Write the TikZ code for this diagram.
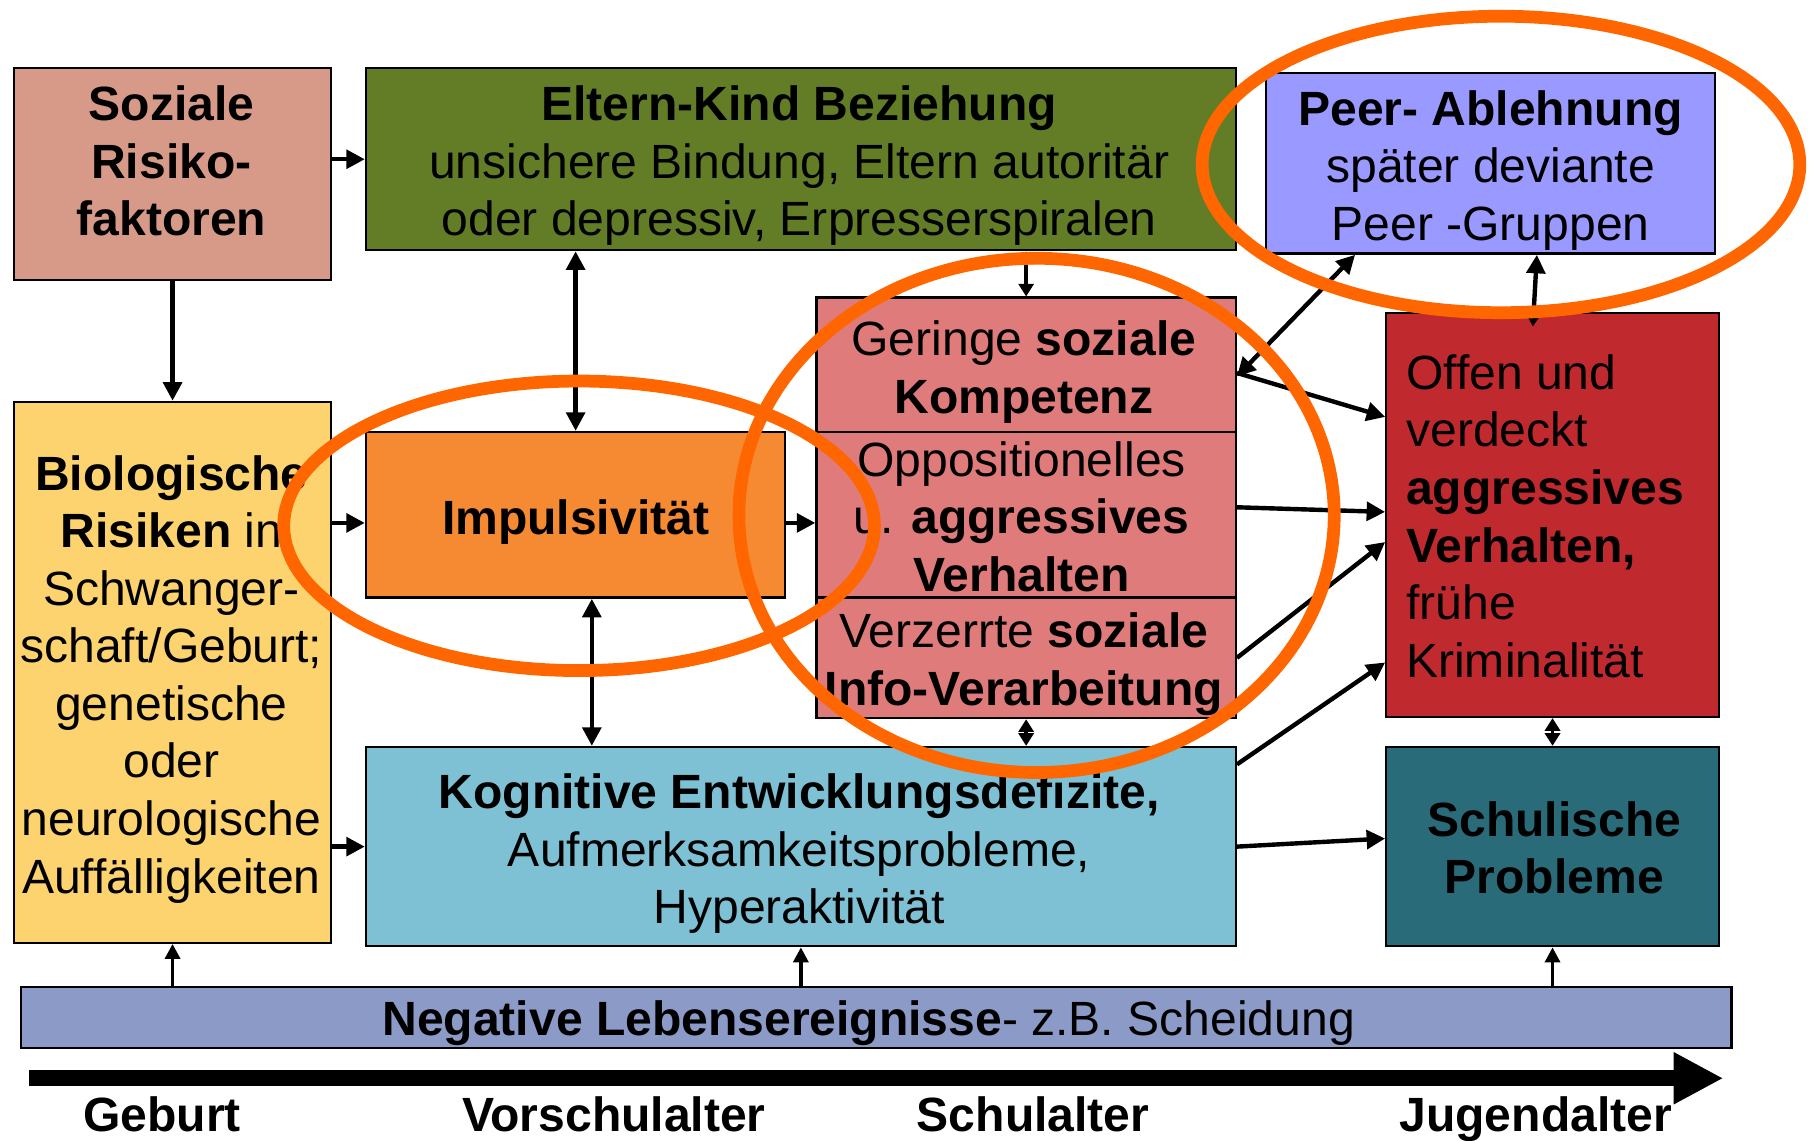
\documentclass[tikz,border=0pt]{standalone}
\usepackage{fontspec}
\setmainfont{Liberation Sans}
\usetikzlibrary{arrows.meta,calc}
\newcommand\hst{\rule{0pt}{34pt}}
\definecolor{cSoz}{RGB}{215,153,136}
\definecolor{cElt}{RGB}{99,125,39}
\definecolor{cPeer}{RGB}{153,153,255}
\definecolor{cBio}{RGB}{253,211,111}
\definecolor{cImp}{RGB}{246,138,51}
\definecolor{cSoc}{RGB}{224,123,123}
\definecolor{cKog}{RGB}{126,193,212}
\definecolor{cRed}{RGB}{192,42,47}
\definecolor{cSch}{RGB}{42,107,122}
\definecolor{cNeg}{RGB}{139,154,198}
\definecolor{cOra}{RGB}{255,102,0}
\begin{document}
\begin{tikzpicture}[x=1pt,y=-1pt,
  box/.style={draw=black, line width=2pt, inner sep=0pt},
  txt/.style={inner sep=0pt, anchor=north, align=center, font=\fontsize{41.5}{49.7}\selectfont},
  ltxt/.style={inner sep=0pt, anchor=north west, align=left, font=\fontsize{41.5}{49.7}\selectfont},
  arr/.style={line width=3.8pt, -{Triangle[length=16pt,width=16pt]}},
  darr/.style={line width=3.8pt, {Triangle[length=16pt,width=16pt]}-{Triangle[length=16pt,width=16pt]}},
  sdarr/.style={line width=3pt, {Triangle[length=11pt,width=13pt]}-{Triangle[length=11pt,width=13pt]}},
  uarr/.style={line width=3pt, -{Triangle[length=13pt,width=13pt]}},
  oval/.style={draw=cOra, line width=11pt}
]
\useasboundingbox (0,0) rectangle (1568,985);

% boxes
\node[box, fill=cSoz, minimum width=274pt, minimum height=183pt] (soz) at (149,150.5) {};
\node[box, fill=cElt, minimum width=751pt, minimum height=157pt] (elt) at (691.5,137.5) {};
\node[box, fill=cPeer, minimum width=388pt, minimum height=156pt] (peer) at (1287,141) {};
\node[box, fill=cBio, minimum width=274pt, minimum height=467pt] (bio) at (149,580.5) {};
\node[box, fill=cImp, minimum width=362pt, minimum height=143pt] (imp) at (497,444.5) {};
\node[box, fill=cSoc, minimum width=362pt, minimum height=116pt] (soc1) at (886,315) {};
\node[box, fill=cSoc, minimum width=362pt, minimum height=143pt] (soc2) at (886,444.5) {};
\node[box, fill=cSoc, minimum width=362pt, minimum height=104pt] (soc3) at (886,568) {};
\node[box, fill=cKog, minimum width=751pt, minimum height=172pt] (kog) at (691.5,731) {};
\node[box, fill=cRed, minimum width=287pt, minimum height=349pt] (red) at (1340.5,444.5) {};
\node[box, fill=cSch, minimum width=287pt, minimum height=172pt] (sch) at (1340.5,731) {};
\node[box, fill=cNeg, minimum width=1477pt, minimum height=53pt] (neg) at (756.5,878.5) {};

% texts
\node[txt] (sozT) at (148,70) {\hst\textbf{Soziale}\\\textbf{Risiko-}\\\textbf{faktoren}};
\node[txt] (eltT) at (690,70) {\hst\textbf{Eltern-Kind Beziehung}\\unsichere Bindung, Eltern autoritär\\oder depressiv, Erpresserspiralen};
\node[txt] (peerT) at (1287,74) {\hst\textbf{Peer- Ablehnung}\\später deviante\\Peer -Gruppen};
\node[txt] (bioT) at (148,389) {\hst\textbf{Biologische}\\\textbf{Risiken} in\\Schwanger-\\schaft/Geburt;\\genetische\\oder\\neurologische\\Auffälligkeiten};
\node[txt] (impT) at (497,427) {\hst\textbf{Impulsivität}};
\node[txt] (soc1T) at (884,273) {\hst Geringe \textbf{soziale}\\\textbf{Kompetenz}};
\node[txt] (soc2T) at (882,377) {\hst Oppositionelles\\u. \textbf{aggressives}\\\textbf{Verhalten}};
\node[txt] (soc3T) at (884,525) {\hst Verzerrte \textbf{soziale}\\\textbf{Info-Verarbeitung}};
\node[txt] (kogT) at (690,664) {\hst\textbf{Kognitive Entwicklungsdefizite,}\\Aufmerksamkeitsprobleme,\\Hyperaktivität};
\node[ltxt] (redT) at (1214,302) {\hst Offen und\\verdeckt\\\textbf{aggressives}\\\textbf{Verhalten,}\\frühe\\Kriminalität};
\node[txt] (schT) at (1342,688) {\hst\textbf{Schulische}\\\textbf{Probleme}};
\node[txt] (negT) at (750,860) {\hst\textbf{Negative Lebensereignisse}- z.B. Scheidung};

% timeline
\coordinate (tl0) at (25,931);
\coordinate (tl1) at (1488,931);
\draw[line width=14pt, -{Triangle[length=43pt,width=42pt]}] (tl0) -- (tl1);
\node[txt] (t1) at (140,943) {\hst\textbf{Geburt}};
\node[txt] (t2) at (530,943) {\hst\textbf{Vorschulalter}};
\node[txt] (t3) at (892,943) {\hst\textbf{Schulalter}};
\node[txt] (t4) at (1326,943) {\hst\textbf{Jugendalter}};

% connectors
\draw[arr] (soz.east |- elt.west) -- (elt.west);
\draw[arr] (soz.south) -- (bio.north);
\draw[darr] (imp.north |- elt.south) -- (imp.north);
\coordinate (a4) at ([yshift=-7pt]imp.west);
\draw[arr] (bio.east |- a4) -- (a4);
\coordinate (a5) at ([yshift=-7pt]imp.east);
\draw[arr] (a5) -- (soc2.west |- a5);
\coordinate (a6) at ([xshift=14pt]imp.south);
\draw[darr] (a6) -- (kog.north -| a6);
\draw[sdarr] (soc1.north |- elt.south) -- (soc1.north);
\draw[sdarr] (soc3.south) -- (kog.north -| soc3.south);
\draw[arr] (bio.east |- kog.west) -- (kog.west);
\draw[darr] ([xshift=-117pt]peer.south) -- ([yshift=-10pt]soc1.east);
\draw[arr] ([yshift=-7pt]soc1.east) -- ([yshift=84.5pt]red.west);
\draw[arr] ([yshift=6.5pt]soc2.east) -- ([yshift=2.5pt]red.west);
\draw[arr] (soc3.east) -- ([yshift=-23.5pt]red.west);
\draw[arr] ([yshift=71pt]kog.east) -- ([yshift=-127.5pt]red.west);
\draw[arr] (kog.east) -- ([yshift=7pt]sch.west);
\draw[line width=3.8pt, {Triangle[length=9pt,width=10pt]}-{Triangle[length=16pt,width=16pt]}] ([xshift=-17pt,yshift=-13pt]red.north) -- ([xshift=40pt]peer.south);
\draw[sdarr] (red.south) -- (sch.north);
\draw[uarr] (bio.south |- neg.north) -- (bio.south);
\draw[uarr] (kog.south |- neg.north) -- (kog.south);
\draw[uarr] (sch.south |- neg.north) -- (sch.south);

% highlight ellipses
\draw[oval] (500,454) ellipse [x radius=255pt, y radius=125pt];
\draw[oval] (895,445) ellipse [x radius=257pt, y radius=222pt];
\draw[oval] (1296,142) ellipse [x radius=258pt, y radius=128pt];
\end{tikzpicture}
\end{document}
